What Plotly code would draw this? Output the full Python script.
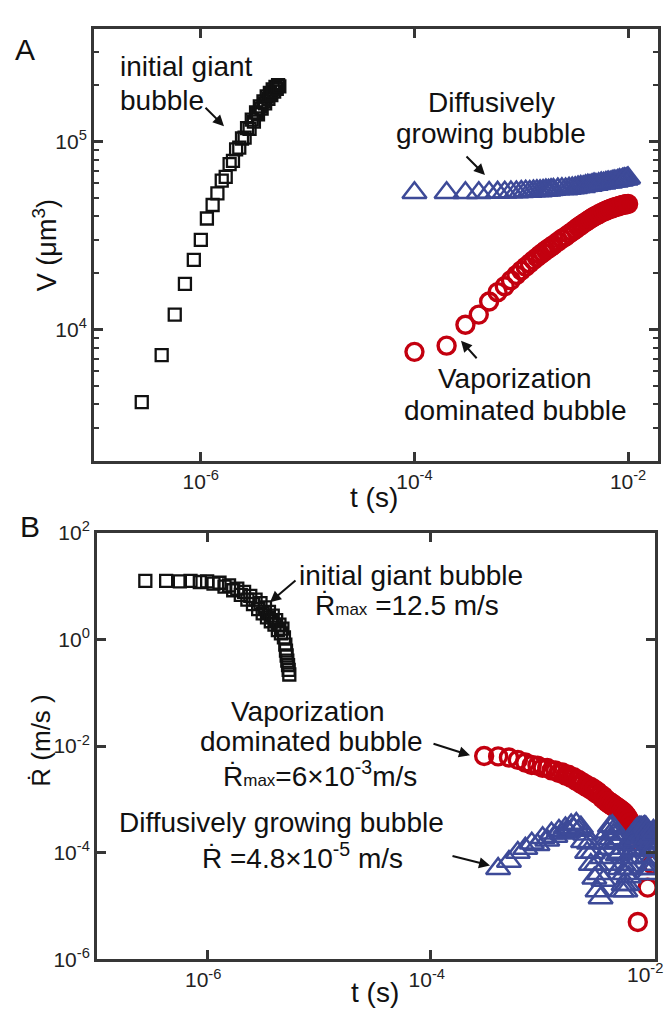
import plotly.graph_objects as go
import math

# ---------------- data ----------------
# Panel A / B : initial giant bubble (times in microseconds)
t_giant_us = [0.28, 0.43, 0.57, 0.71, 0.86, 1.00, 1.14, 1.29, 1.43, 1.57, 1.71, 1.86,
              2.00, 2.14, 2.29, 2.43, 2.57, 2.71, 2.86, 3.00, 3.14, 3.29, 3.43, 3.57,
              3.71, 3.86, 4.00, 4.14, 4.29, 4.43, 4.57, 4.71, 4.86, 5.00, 5.14, 5.29, 5.43]
V_giant = [4100, 7300, 12000, 17500, 23500, 30000, 39000, 46000, 53000, 62000, 65000, 76000,
           79000, 91000, 93000, 104000, 105000, 118000, 117000, 131000, 128000, 143000, 140000, 154000,
           150000, 164000, 160000, 174000, 169000, 182000, 177000, 190000, 185000, 196000, 191000, 200000, 197000]
t_giant_B_us = [0.28, 0.43, 0.57, 0.71, 0.86, 1.00, 1.14, 1.29, 1.43, 1.57, 1.71, 1.86,
                2.00, 2.14, 2.29, 2.43, 2.57, 2.71, 2.86, 3.00, 3.14, 3.29, 3.43, 3.57,
                3.71, 3.86, 4.00, 4.14, 4.29, 4.43, 4.57, 4.71, 4.86, 5.00, 5.07, 5.14, 5.21, 5.29, 5.36, 5.43]
Rdot_giant = [12.6, 12.6, 12.3, 12.6, 12.0, 12.3, 11.2, 11.6, 9.8, 10.4, 8.4, 9.0,
              6.9, 7.8, 5.6, 6.6, 4.6, 5.6, 3.7, 4.8, 3.1, 4.0, 2.6, 3.3,
              2.2, 2.8, 1.9, 2.3, 1.5, 1.9, 1.3, 1.6, 1.1, 0.8, 0.62, 0.5, 0.4, 0.33, 0.27, 0.22]

# Panel A : diffusively growing bubble (times in ms)
t_diff_A_ms = [0.1, 0.2, 0.3, 0.4, 0.5, 0.6, 0.7, 0.8, 0.9, 1.0,
               1.1, 1.2, 1.3, 1.4, 1.5, 1.6, 1.7, 1.8, 1.9, 2.0,
               2.2, 2.4, 2.6, 2.8, 3.0, 3.2, 3.4, 3.6, 3.8, 4.0, 4.2, 4.4, 4.6, 4.8, 5.0,
               5.3, 5.6, 5.9, 6.2, 6.5, 6.8, 7.1, 7.4, 7.7, 8.0, 8.3, 8.6, 8.9, 9.2, 9.5, 9.8,
               10.0]
V_diff_A = [53500, 53500, 53400, 53500, 53600, 53700, 53800, 53900, 54000, 54200,
            54400, 54300, 54600, 54800, 54700, 55000, 55200, 55100, 55400, 55600,
            55900, 56100, 56000, 56400, 56700, 56800, 57300, 57700, 57600, 58200, 58600, 58400, 59000, 59400, 59200,
            59700, 60200, 60000, 60600, 61000, 60800, 61400, 61800, 61600, 62100, 62600, 62300, 63000, 63400, 63100, 63800,
            64000]

# Panel A : vaporization dominated bubble (times in ms)
t_vap_A_ms = list(t_diff_A_ms)
V_vap_A = [7600, 8200, 10600, 12000, 14100, 15800, 17000, 18300, 19500, 20600,
           21600, 22500, 23400, 24200, 25000, 25700, 26400, 27000, 27600, 28200,
           29300, 30400, 31300, 32300, 33200, 34100, 35000, 35800, 36600, 37300, 38000, 38700, 39300, 39900, 40400,
           41100, 41800, 42400, 42900, 43400, 43800, 44200, 44600, 44900, 45200, 45500, 45800, 46000, 46200, 46400, 46500,
           46600]

# Panel B : vaporization dominated bubble (times in ms)
t_vap_B_ms = [0.3, 0.4, 0.5, 0.6, 0.7, 0.8, 0.9, 1.0, 1.1, 1.2, 1.3, 1.4, 1.5, 1.6, 1.7, 1.8, 1.9, 2.0,
              2.1, 2.2, 2.3, 2.4, 2.5, 2.6, 2.7, 2.8, 2.9, 3.0, 3.1, 3.2, 3.3, 3.4, 3.5, 3.6, 3.7, 3.8, 3.9,
              4.0, 4.1, 4.2, 4.3, 4.4, 4.5, 4.6, 4.7, 4.8, 4.9, 5.0, 5.1, 5.2, 5.3, 5.4, 5.5, 5.6, 5.7, 5.8,
              5.9, 6.0, 6.1, 6.2, 6.3, 6.4, 6.5,
              7.1, 8.7, 9.6]
Rdot_vap_B = [6.5e-3, 6.4e-3, 6.1e-3, 5.5e-3, 4.9e-3, 4.4e-3, 4.3e-3, 3.9e-3, 3.9e-3, 3.5e-3, 3.5e-3,
              3.1e-3, 3.2e-3, 2.8e-3, 2.9e-3, 2.5e-3, 2.6e-3, 2.2e-3,
              2.3e-3, 1.95e-3, 2.05e-3, 1.75e-3, 1.85e-3, 1.6e-3, 1.7e-3, 1.45e-3, 1.55e-3, 1.3e-3, 1.4e-3,
              1.2e-3, 1.25e-3, 1.05e-3, 1.15e-3, 9.5e-4, 1.0e-3, 8.6e-4, 9.2e-4,
              8.0e-4, 8.6e-4, 7.5e-4, 8.0e-4, 7.0e-4, 7.5e-4, 6.6e-4, 7.0e-4, 6.2e-4, 6.6e-4, 5.8e-4, 6.2e-4,
              5.4e-4, 5.8e-4, 5.0e-4, 5.3e-4, 4.6e-4, 4.8e-4, 4.1e-4,
              4.3e-4, 3.6e-4, 3.7e-4, 3.0e-4, 2.7e-4, 2.2e-4, 1.8e-4,
              5e-6, 2.2e-5, 6e-5]

# Panel B : diffusively growing bubble (times in ms)
t_diff_B_ms = [0.4, 0.5, 0.6, 0.7, 0.8, 0.9, 1.0, 1.1, 1.2, 1.3, 1.4, 1.5, 1.6, 1.7, 1.8, 1.9, 2.0,
               2.1, 2.2, 2.3, 2.4, 2.5, 2.6, 2.7, 2.8, 2.9, 3.0, 3.1, 3.2, 3.3, 3.4, 3.5, 3.6, 3.7, 3.8, 3.9,
               4.0, 4.1, 4.2, 4.3, 4.4, 4.5, 4.6, 4.7, 4.8, 4.9, 5.0, 5.1, 5.2, 5.3, 5.4, 5.5, 5.6, 5.7, 5.8,
               5.9, 6.0, 6.1, 6.2, 6.3, 6.4, 6.5, 6.6, 6.7, 6.8, 6.9, 7.0, 7.1, 7.2, 7.3, 7.4, 7.5, 7.6, 7.7,
               7.8, 7.9, 8.0, 8.1, 8.2, 8.3, 8.4, 8.5, 8.6, 8.7, 8.8, 8.9, 9.0, 9.1, 9.2, 9.3, 9.4, 9.5, 9.6,
               9.7, 9.8, 9.9, 10.0]
Rdot_diff_B = [5.0e-5, 6.8e-5, 1.0e-4, 1.2e-4, 1.5e-4, 1.4e-4, 1.9e-4, 1.7e-4, 2.3e-4, 2.0e-4, 2.6e-4,
               2.3e-4, 2.9e-4, 2.5e-4, 3.3e-4, 2.8e-4, 3.5e-4,
               2.6e-4, 3.0e-4, 1.6e-4, 2.2e-4, 1.0e-4, 1.5e-4, 6.0e-5, 1.0e-4, 3.3e-5, 6.0e-5, 1.9e-5, 4.0e-5,
               1.4e-5, 8.0e-5, 3.0e-5, 1.5e-4, 6.0e-5, 2.4e-4, 1.2e-4,
               3.1e-4, 1.8e-4, 3.2e-4, 2.2e-4, 2.8e-4, 1.5e-4, 2.2e-4, 9.0e-5, 1.6e-4, 5.0e-5, 1.0e-4, 1.9e-5,
               6.0e-5, 2.5e-5, 4.0e-5, 1.9e-5, 5.0e-5, 2.5e-5, 8.0e-5,
               3.5e-5, 1.2e-4, 5.0e-5, 1.6e-4, 8.0e-5, 2.0e-4, 1.1e-4, 2.4e-4, 1.4e-4, 2.6e-4, 1.7e-4, 2.8e-4,
               1.9e-4, 2.9e-4, 2.1e-4, 3.0e-4, 2.2e-4, 3.0e-4, 2.2e-4,
               2.9e-4, 2.0e-4, 3.0e-4, 1.6e-4, 3.1e-4, 1.2e-4, 3.0e-4, 8.0e-5, 2.6e-4, 5.0e-5, 2.2e-4, 4.0e-5,
               1.8e-4, 5.0e-5, 1.5e-4, 6.0e-5, 2.0e-4, 8.0e-5, 2.4e-4,
               1.1e-4, 2.6e-4, 1.3e-4, 2.2e-4]

# tick labels
x_tickvals = [1e-6, 1e-4, 1e-2]
x_ticktext = ["10<sup>-6</sup>", "10<sup>-4</sup>", "10<sup>-2</sup>"]
# the last bottom-panel label sits against the right page edge: it is drawn as a
# right-anchored annotation so it cannot spill past the page
x2_ticktext = ["10<sup>-6</sup>", "10<sup>-4</sup>", ""]
x2_edge_label = "10<sup>-2</sup>"
yA_tickvals = [1e4, 1e5]
yA_ticktext = ["10<sup>4</sup>", "10<sup>5</sup>"]
yA_minor = [2e3, 3e3, 4e3, 5e3, 6e3, 7e3, 8e3, 9e3, 2e4, 3e4, 4e4, 5e4, 6e4, 7e4, 8e4, 9e4, 2e5, 3e5]
yB_tickvals = [1e-6, 1e-4, 1e-2, 1e0, 1e2]
yB_ticktext = ["10<sup>-6</sup>", "10<sup>-4</sup>", "10<sup>-2</sup>", "10<sup>0</sup>", "10<sup>2</sup>"]

# ---------------- styling ----------------
W, H = 666, 1017
FONT = "Liberation Sans, Arial, sans-serif"
AX = "#363636"
BLACK = "#111111"
RED = "#c3000f"
BLUE = "#3d4a98"
TICKSIZE = 21


def pxx(x):
    return x / W


def pxy(y):
    return 1 - y / H


fig = go.Figure()

sq = dict(symbol="square-open", size=12, color=BLACK, line=dict(width=2.3, color=BLACK))
ci = dict(symbol="circle-open", size=17, color=RED, line=dict(width=3.4, color=RED))
tr = dict(symbol="triangle-up-open", size=21, color=BLUE, line=dict(width=2.5, color=BLUE))

# Panel A
fig.add_trace(go.Scatter(x=[v * 1e-6 for v in t_giant_us], y=V_giant, mode="markers", marker=sq,
                         xaxis="x", yaxis="y"))
fig.add_trace(go.Scatter(x=[v * 1e-3 for v in t_vap_A_ms], y=V_vap_A, mode="markers", marker=ci,
                         xaxis="x", yaxis="y"))
fig.add_trace(go.Scatter(x=[v * 1e-3 for v in t_diff_A_ms], y=V_diff_A, mode="markers", marker=tr,
                         xaxis="x", yaxis="y"))
# Panel B
fig.add_trace(go.Scatter(x=[v * 1e-6 for v in t_giant_B_us], y=Rdot_giant, mode="markers", marker=sq,
                         xaxis="x2", yaxis="y2"))
fig.add_trace(go.Scatter(x=[v * 1e-3 for v in t_vap_B_ms], y=Rdot_vap_B, mode="markers", marker=ci,
                         xaxis="x2", yaxis="y2"))
fig.add_trace(go.Scatter(x=[v * 1e-3 for v in t_diff_B_ms], y=Rdot_diff_B, mode="markers", marker=tr,
                         xaxis="x2", yaxis="y2"))

common = dict(type="log", showline=True, linecolor=AX, linewidth=3, mirror="ticks",
              ticks="inside", ticklen=9, tickwidth=2.5, tickcolor=AX, showgrid=False, zeroline=False,
              tickfont=dict(family=FONT, size=TICKSIZE, color="#222"))

fig.update_layout(
    width=W, height=H, margin=dict(l=0, r=0, t=0, b=0),
    paper_bgcolor="white", plot_bgcolor="white", showlegend=False,
    xaxis=dict(domain=[pxx(94), pxx(658)], range=[-7, -1.72], anchor="y",
               tickvals=x_tickvals, ticktext=x_ticktext, **common),
    yaxis=dict(domain=[pxy(458), pxy(15)], range=[math.log10(2000), math.log10(4e5)], anchor="x",
               tickvals=yA_tickvals, ticktext=yA_ticktext,
               minor=dict(tickvals=yA_minor, ticks="inside", ticklen=5, tickwidth=2, tickcolor=AX),
               **common),
    xaxis2=dict(domain=[pxx(97), pxx(655)], range=[-6.985, -1.995], anchor="y2",
                tickvals=x_tickvals, ticktext=x2_ticktext, ticklabelshift=-4, **common),
    yaxis2=dict(domain=[pxy(969), pxy(532)], range=[-6, 2], anchor="x2",
                tickvals=yB_tickvals, ticktext=yB_ticktext, **common),
)


def txt(text, x, y, size=28, xanchor="center", angle=0, color="#111"):
    fig.add_annotation(text=text, x=pxx(x), y=pxy(y), xref="paper", yref="paper",
                       xanchor=xanchor, yanchor="middle", showarrow=False, textangle=angle,
                       font=dict(family=FONT, size=size, color=color))


def arrow(hx, hy, tx, ty):
    fig.add_annotation(text="", x=pxx(hx), y=pxy(hy), xref="paper", yref="paper",
                       ax=tx - hx, ay=ty - hy, showarrow=True, arrowhead=2, arrowsize=1.1,
                       arrowwidth=2, arrowcolor="#111", standoff=0, startstandoff=0)


# edge tick label of the bottom panel
txt(x2_edge_label, 665, 983, size=TICKSIZE, xanchor="right", color="#222")

# Panel labels
txt("A", 25, 36, size=30)
txt("B", 30, 525, size=30)

# Axis titles
txt("V (μm<sup>3</sup>)", 45, 237, size=27, angle=-90)
txt("t (s)", 374, 496, size=28)
txt("Ṙ (m/s )", 41, 745, size=26, angle=-90)
txt("t (s)", 375, 1003, size=28)

# Panel A texts
txt("initial giant", 118, 54, xanchor="left")
txt("bubble", 118, 89, xanchor="left")
txt("Diffusively", 491, 91)
txt("growing bubble", 491, 123)
txt("Vaporization", 515, 374)
txt("dominated bubble", 515, 406)
arrow(224, 115, 204, 95)
arrow(485, 165, 465, 145)
arrow(461, 335, 478, 354)

# Panel B texts
SM = "<span style='font-size:17px'>max</span>"
txt("initial giant bubble", 297, 576, xanchor="left")
txt("Ṙ" + SM + " =12.5 m/s", 313, 606, xanchor="left")
txt("Vaporization", 308, 715)
txt("dominated bubble", 311, 746)
txt("Ṙ" + SM + "=6×10<sup>-3</sup>m/s", 320, 779)
txt("Diffusively growing bubble", 281, 829)
txt("Ṙ =4.8×10<sup>-5</sup> m/s", 302, 863)
arrow(270, 603, 297, 580)
arrow(470, 760, 432, 748)
arrow(490, 873, 451, 863)

fig.write_html("out.html")
